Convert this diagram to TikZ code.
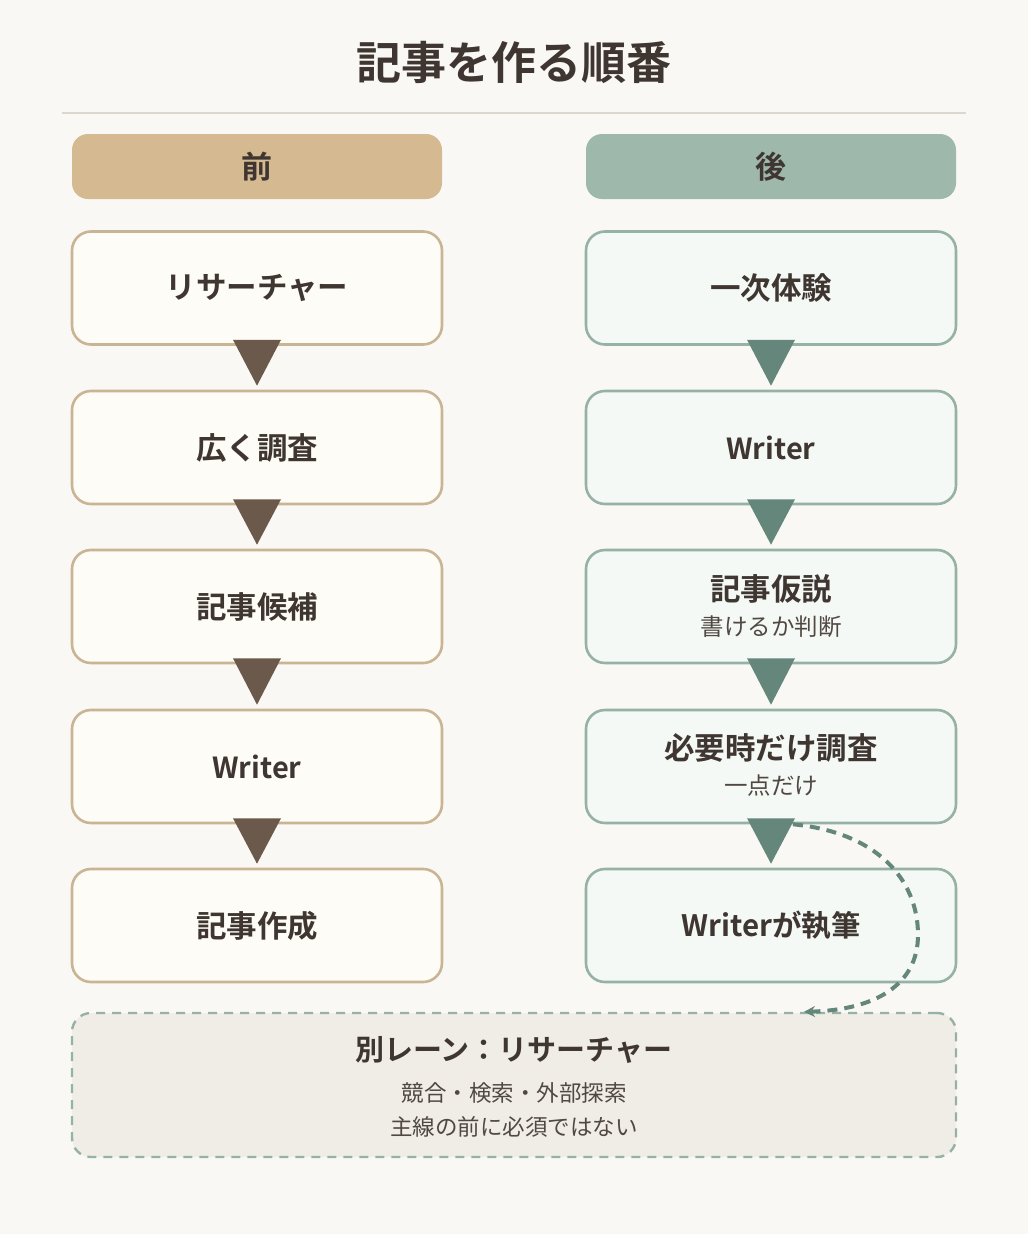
\documentclass[tikz,border=0pt]{standalone}
\usepackage{fontspec}
\setmainfont{Noto Sans CJK JP}[BoldFont={Noto Sans CJK JP Bold}]
\usetikzlibrary{calc,arrows.meta}
\definecolor{bg}{HTML}{F9F8F4}
\definecolor{rulec}{HTML}{DDD8CE}
\definecolor{headL}{HTML}{D4B991}
\definecolor{headR}{HTML}{9FB8AC}
\definecolor{fillL}{HTML}{FEFCF6}
\definecolor{edgeL}{HTML}{C9B493}
\definecolor{fillR}{HTML}{F4F9F6}
\definecolor{edgeR}{HTML}{96B1A5}
\definecolor{triL}{HTML}{6B5A4B}
\definecolor{triR}{HTML}{65877B}
\definecolor{txt}{HTML}{3F3631}
\definecolor{subtxt}{HTML}{514843}
\definecolor{lanefill}{HTML}{F0EDE6}
\tikzset{
  head/.style={minimum width=370pt,minimum height=65pt,rounded corners=16pt,inner sep=0pt,
    font=\fontsize{31}{36}\selectfont\bfseries,text=txt},
  mainfont/.style={font=\fontsize{30.5}{36}\selectfont\bfseries,text=txt},
  latinfont/.style={font=\fontsize{29}{34}\selectfont\bfseries},
  boxL/.style={draw=edgeL,fill=fillL,line width=2.6pt,minimum width=370pt,minimum height=113pt,
    rounded corners=19pt,inner sep=0pt,align=center,mainfont},
  boxR/.style={boxL,draw=edgeR,fill=fillR},
  subline/.style={font=\fontsize{23.5}{28}\selectfont\mdseries,text=subtxt},
  laneline/.style={font=\fontsize{22.5}{27}\selectfont\mdseries,text=subtxt},
  triLs/.style={fill=triL},
  triRs/.style={fill=triR},
}
\newcommand{\tri}[3]{\fill[#3] ($(#1.south)+(-24,-6)$) -- ($(#1.south)+(24,-6)$) -- ($(#2.north)+(0,-4)$) -- cycle;}
\begin{document}
\begin{tikzpicture}[x=1pt,y=-1pt]
\useasboundingbox (0,0) rectangle (1028,1234);
\fill[bg] (0,0) rectangle (1028,1234);
\node[text=txt,font=\fontsize{45}{52}\selectfont\bfseries] (title) at (514,62) {記事を作る順番};
\coordinate (ruleA) at (62,113);
\coordinate (ruleB) at (966,113);
\draw[rulec,line width=1.3pt] (ruleA) -- (ruleB);

\node[head,fill=headL] (hL) at (257,166.5) {前};
\node[head,fill=headR] (hR) at (771,166.5) {後};

\node[boxL] (l1) at (257,288) {リサーチャー};
\node[boxL] (l2) at (257,447.5) {広く調査};
\node[boxL] (l3) at (257,606.5) {記事候補};
\node[boxL,latinfont] (l4) at (257,766.5) {Writer};
\node[boxL] (l5) at (257,925.5) {記事作成};

\node[boxR] (r1) at (771,288) {一次体験};
\node[boxR,latinfont] (r2) at (771,447.5) {Writer};
\node[boxR] (r3) at (771,606.5) {};
\node[mainfont] (r3a) at (771,589) {記事仮説};
\node[subline] (r3b) at (771,627) {書けるか判断};
\node[boxR] (r4) at (771,766.5) {};
\node[mainfont] (r4a) at (771,748) {必要時だけ調査};
\node[subline] (r4b) at (771,786) {一点だけ};
\node[boxR,font=\fontsize{29.5}{34}\selectfont\bfseries] (r5) at (771,925.5) {Writerが執筆};

\node[draw=edgeR,fill=lanefill,line width=2.4pt,dash pattern=on 9pt off 7pt,
  minimum width=884pt,minimum height=144pt,rounded corners=19pt] (lane) at (514,1085) {};
\node[font=\fontsize{29}{34}\selectfont\bfseries,text=txt] (laneT) at (514,1050) {別レーン：リサーチャー};
\node[laneline] (laneA) at (514,1093) {競合・検索・外部探索};
\node[laneline] (laneB) at (514,1127) {主線の前に必須ではない};

\tri{l1}{l2}{triLs}
\tri{l2}{l3}{triLs}
\tri{l3}{l4}{triLs}
\tri{l4}{l5}{triLs}
\tri{r1}{r2}{triRs}
\tri{r2}{r3}{triRs}
\tri{r3}{r4}{triRs}
\tri{r4}{r5}{triRs}

\coordinate (cs) at ($(r4.south)+(22,0)$);
\coordinate (ce) at ($(lane.north)+(290,0)$);
\draw[draw=triR,line width=4pt,dash pattern=on 10pt off 7pt,-{Stealth[length=11pt,width=11pt]}]
  (cs) .. controls (875,832) and (918,878) .. (918,935)
  .. controls (918,985) and (875,1010) .. (ce);
\end{tikzpicture}
\end{document}
